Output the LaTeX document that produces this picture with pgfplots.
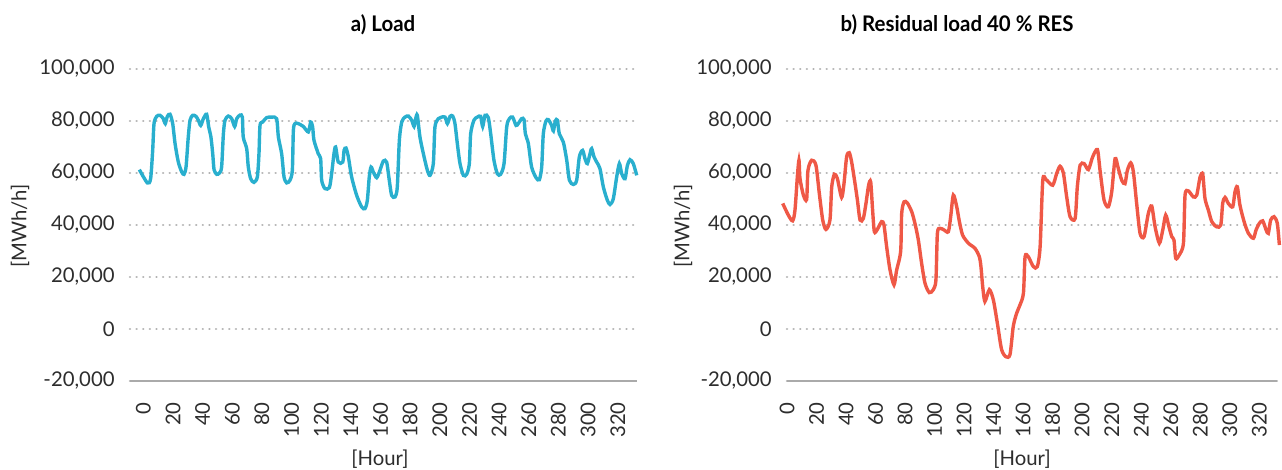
\documentclass[border=0pt]{standalone}
\usepackage{fontspec}
\setmainfont{Lato}
\usepackage{pgfplots}
\pgfplotsset{compat=1.18}

\definecolor{loadblue}{RGB}{41,175,206}
\definecolor{resred}{RGB}{239,88,70}
\definecolor{gridgray}{RGB}{178,178,178}
\definecolor{axisgray}{RGB}{170,170,170}
\definecolor{txt}{RGB}{45,45,45}

\pgfplotsset{
  panel/.style={
    scale only axis, height=156bp,
    ymin=-20000, ymax=100000,
    ytick={-20000,0,20000,40000,60000,80000,100000},
    yticklabels={{-20,000},{0},{20,000},{40,000},{60,000},{80,000},{100,000}},
    scaled y ticks=false,
    xtick={0,20,...,320},
    /pgf/number format/assume math mode=true,
    axis x line*=bottom, axis y line*=left,
    y axis line style={draw=none},
    x axis line style={draw=axisgray, line width=1bp},
    major tick length=0pt,
    ymajorgrids,
    grid style={gridgray, line width=1.3bp, line cap=round, dash pattern=on 0.01bp off 3.3bp},
    tick label style={font=\fontsize{10.2}{12}\selectfont, text=txt},
    yticklabel style={anchor=east, inner sep=0pt},
    yticklabel shift=7.5bp,
    xticklabel style={rotate=90, anchor=east, inner sep=0pt},
    xticklabel shift=10.5bp,
    clip=false,
  },
  curve/.style={smooth, tension=0.45, line width=1.7bp, no marks},
}

\begin{document}
\begin{tikzpicture}
\path[use as bounding box] (0,0) rectangle (641bp,235bp);

% a) load
\begin{axis}[panel, at={(65bp,44.5bp)}, anchor=south west,
  width=253.5bp, xmin=-9, xmax=333]
\addplot[curve, loadblue] coordinates {
(-2.7,61300)(2.7,56200)(4.9,57800)(6.3,68700)(7.2,79000)(9.0,81800)(11.2,82200)(13.5,80900)(14.8,79000)(16.2,81800)(18.0,82600)(19.8,79000)(21.4,71300)(23.6,64200)(25.9,60400)(27.4,59500)(28.8,62300)(30.3,73800)(31.5,80300)(33.3,82200)(35.5,81800)(37.1,80300)(38.7,78300)(40.5,80900)(42.7,82600)(44.1,77700)(45.6,73800)(46.8,67400)(47.7,61300)(49.5,59500)(51.3,60000)(52.8,62300)(54.0,75100)(55.1,80300)(57.3,81900)(59.6,80900)(61.6,77900)(63.0,80900)(65.2,82300)(66.8,81500)(67.4,73800)(69.7,69400)(70.8,62300)(72.4,57800)(74.6,56400)(76.9,58500)(78.0,67400)(78.7,78300)(80.5,79600)(83.2,81300)(86.6,81500)(89.9,80900)(91.1,73800)(93.3,67400)(94.9,58500)(96.7,56200)(98.9,57200)(100.5,61000)(101.2,76400)(102.3,79000)(104.5,79000)(107.9,77900)(111.3,75800)(112.9,79600)(114.2,77700)(115.1,72600)(118.0,67400)(119.6,65500)(120.3,57200)(122.5,54000)(125.5,54400)(127.0,59700)(128.6,67400)(129.7,70000)(131.5,64200)(134.5,64200)(135.4,68700)(136.7,69600)(138.3,66200)(140.5,58500)(143.9,51400)(147.3,46900)(149.5,46300)(151.1,49500)(152.4,58500)(153.6,62300)(155.1,60400)(157.4,58200)(159.6,61000)(161.9,64600)(164.1,64200)(165.9,57200)(167.5,51400)(169.8,50800)(171.3,54600)(172.7,72600)(174.3,79600)(176.5,81500)(178.8,81900)(181.0,80300)(182.6,77900)(183.7,80900)(184.8,82200)(186.6,73800)(188.9,67400)(191.6,61000)(193.4,59100)(195.6,63600)(196.7,77700)(199.0,80900)(201.2,81500)(203.5,81500)(205.1,79000)(206.9,81800)(208.7,81900)(210.2,79000)(211.8,71300)(213.6,63600)(215.9,59100)(218.1,59500)(219.9,63600)(220.8,75100)(223.0,80300)(225.3,81500)(227.5,81800)(228.9,77900)(230.5,82200)(232.7,81300)(234.3,75100)(236.5,64900)(238.8,59700)(241.0,59500)(243.3,63600)(245.1,77700)(246.9,80900)(249.1,81500)(251.4,78300)(252.9,79000)(255.2,80900)(256.8,80500)(257.7,75100)(259.7,71300)(261.9,62300)(264.9,58200)(267.1,57400)(268.7,62300)(269.8,75100)(271.6,80000)(273.2,80500)(275.4,78300)(276.6,76200)(277.9,80000)(279.3,80300)(280.6,75100)(283.3,71900)(285.6,64900)(287.4,57200)(290.1,55600)(292.3,57200)(294.1,66200)(296.3,68700)(297.9,65500)(299.5,63600)(301.3,67400)(302.4,69400)(304.0,66200)(305.8,64200)(308.0,61700)(310.3,54600)(313.0,49500)(314.8,47900)(317.0,50100)(319.3,58500)(321.1,63600)(322.7,59700)(324.9,57800)(326.5,62900)(328.3,65100)(330.5,63600)(332.8,59100)
};
\end{axis}

% b) residual load
\begin{axis}[panel, at={(393.5bp,44.5bp)}, anchor=south west,
  width=245bp, xmin=0, xmax=332]
\addplot[curve, resred] coordinates {
(-2.9,48300)(0.9,43800)(3.8,41600)(5.4,45700)(7.0,58500)(8.1,64900)(8.8,57900)(11.1,51500)(13.3,49800)(14.2,61000)(16.7,64900)(19.6,63000)(21.9,52100)(24.2,41900)(26.4,38300)(29.1,41900)(30.3,54700)(32.1,59500)(34.1,57900)(37.0,50600)(38.6,55900)(40.4,66200)(42.2,67800)(43.8,64200)(46.1,55900)(47.7,49600)(49.5,41900)(51.7,42500)(53.5,48300)(55.3,55300)(56.7,56600)(58.0,45700)(59.2,37400)(61.2,38300)(64.1,41300)(65.7,40000)(67.5,31700)(69.8,22700)(72.5,17000)(74.3,22700)(77.0,29800)(77.7,44400)(79.3,48900)(81.5,48500)(84.5,45100)(86.7,40600)(89.0,34200)(91.2,25300)(93.5,17600)(96.4,14000)(99.1,15100)(100.9,18900)(101.9,36800)(103.7,38700)(106.4,38100)(109.3,37400)(110.9,43200)(112.7,51500)(115.0,47000)(116.8,41300)(119.0,36100)(122.9,33000)(127.4,31000)(130.3,27800)(131.4,24000)(132.6,16300)(134.1,10600)(137.1,15100)(139.8,11200)(142.5,2300)(145.4,-7900)(148.4,-10700)(151.1,-9800)(153.3,1000)(155.6,6100)(157.9,9300)(160.2,13800)(161.3,27800)(163.5,27800)(166.9,24000)(169.6,24000)(171.5,31700)(173.3,57200)(175.5,57500)(180.0,55300)(182.7,59800)(185.0,62600)(187.3,59800)(189.5,50800)(191.8,43200)(195.2,42500)(196.7,54700)(198.6,63000)(201.3,63600)(204.2,61300)(207.1,66200)(210.3,69000)(212.1,61000)(214.8,49600)(217.7,47000)(220.0,52700)(222.3,65500)(224.5,61700)(226.8,57200)(229.0,55900)(230.6,61000)(232.9,63900)(234.7,60400)(236.9,48300)(239.2,36800)(241.9,35500)(244.8,44400)(247.1,47300)(249.4,39300)(252.3,33000)(254.6,38100)(256.6,43800)(258.8,39300)(260.7,35500)(262.2,34200)(263.4,27200)(265.8,28500)(268.6,33000)(269.7,51500)(271.9,53100)(275.3,50800)(277.6,51500)(279.9,58500)(281.7,59500)(283.2,50200)(285.5,45700)(287.8,41300)(291.1,39300)(293.9,40000)(295.2,48300)(296.8,50600)(299.0,48300)(302.0,47000)(303.5,52700)(305.1,54700)(306.9,47600)(309.7,41300)(312.6,36800)(316.0,34900)(317.8,38100)(320.0,40600)(322.3,41600)(324.6,38100)(326.1,36800)(327.7,41900)(330.0,43200)(332.2,40600)(333.6,32300)
};
\end{axis}

% titles and axis labels
\begin{scope}[every node/.style={font=\fontsize{10.2}{12}\selectfont, text=txt}]
\node[font=\fontsize{10.8}{13}\selectfont\bfseries, text=black, xscale=0.95] at (191.5bp,222.5bp) {a) Load};
\node[font=\fontsize{10.8}{13}\selectfont\bfseries, text=black, xscale=0.95] at (478.5bp,222.5bp) {b) Residual load 40 \% RES};
\node[rotate=90] at (10bp,122bp) {[MWh/h]};
\node[rotate=90] at (341.5bp,122bp) {[MWh/h]};
\node at (190bp,5.5bp) {[Hour]};
\node at (511bp,5.5bp) {[Hour]};
\end{scope}
\end{tikzpicture}
\end{document}
